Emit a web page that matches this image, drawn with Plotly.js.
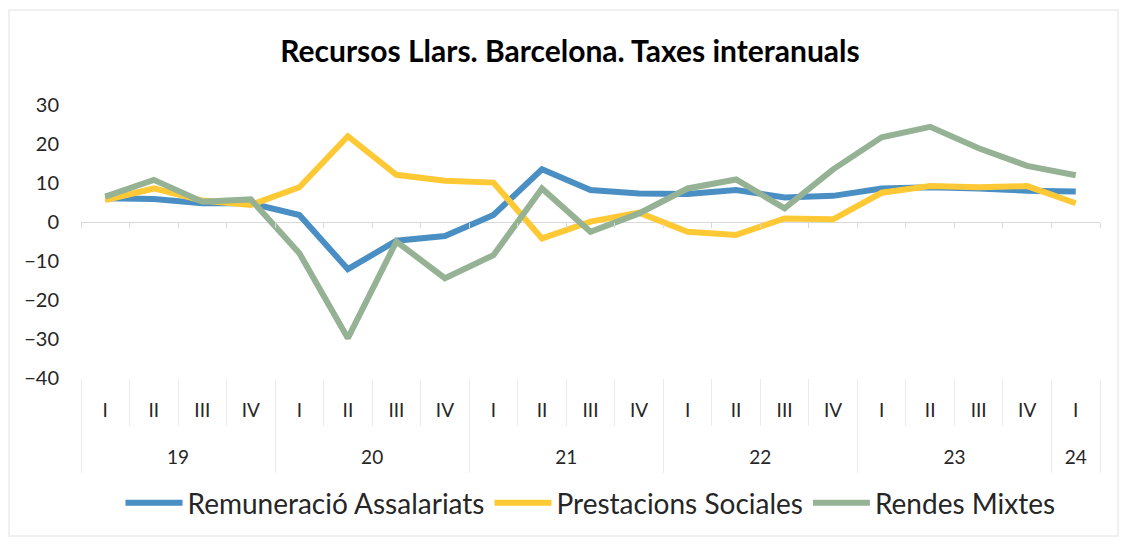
<!DOCTYPE html>
<html>
<head>
<meta charset="utf-8">
<script src="https://cdn.plot.ly/plotly-3.0.1.min.js"></script>
<style>
  html, body { margin: 0; padding: 0; background: #ffffff; }
  #chart { width: 1127px; height: 544px; }
</style>
</head>
<body>
<div id="chart"></div>
<script>
// ---- data ----
const yearLabels = ['19','19','19','19','20','20','20','20','21','21','21','21','22','22','22','22','23','23','23','23','24'];
const quarterLabels = ['I','II','III','IV','I','II','III','IV','I','II','III','IV','I','II','III','IV','I','II','III','IV','I'];

const remuneracio = [6.1, 5.9, 4.8, 4.8, 1.8, -12.1, -4.8, -3.6, 1.8, 13.5, 8.2, 7.3, 7.2, 8.2, 6.3, 6.7, 8.6, 8.9, 8.6, 8.0, 7.8];
const prestacions = [5.6, 8.6, 5.5, 4.4, 8.9, 22.0, 12.1, 10.6, 10.1, -4.2, 0.1, 2.4, -2.5, -3.3, 0.9, 0.7, 7.5, 9.2, 8.9, 9.2, 4.8];
const rendes      = [6.5, 10.8, 5.2, 5.8, -8.0, -29.8, -5.0, -14.4, -8.5, 8.6, -2.5, 2.2, 8.6, 10.9, 3.5, 13.5, 21.7, 24.4, 18.9, 14.4, 12.0];

const seriesNames = ['Remuneració Assalariats', 'Prestacions Sociales', 'Rendes Mixtes'];
const seriesColors = ['#4a8fc4', '#ffc936', '#95b394'];

// ---- layout constants ----
const W = 1127, H = 544;
const M = {l: 81, r: 27, t: 105, b: 166};
const yMin = -40, yMax = 30;
const FONT = 'Lato, "Open Sans", sans-serif';
const TXT = '#262626';
const LIGHT = '#ebebeb';

// category positions (index of each quarter)
const nCat = quarterLabels.length;
const xIdx = quarterLabels.map((_, i) => i);

// quarter boundaries
const qBounds = [];
for (let k = 0; k <= nCat; k++) qBounds.push(k - 0.5);

// year groups: centres and boundaries derived from yearLabels
const yearNames = [], yearCentres = [], yearBounds = [-0.5];
let start = 0;
for (let i = 1; i <= nCat; i++) {
  if (i === nCat || yearLabels[i] !== yearLabels[i - 1]) {
    yearNames.push(yearLabels[start]);
    yearCentres.push((start + i - 1) / 2);
    yearBounds.push(i - 0.5);
    start = i;
  }
}

const traces = [remuneracio, prestacions, rendes].map((vals, i) => ({
  type: 'scatter',
  mode: 'lines',
  x: xIdx,
  y: vals,
  name: seriesNames[i],
  line: {color: seriesColors[i], width: 6},
  hoverinfo: 'skip'
}));
// carriers for the extra axes
traces.push({type: 'scatter', mode: 'lines', x: [0], y: [null], xaxis: 'x2', showlegend: false, hoverinfo: 'skip'});
traces.push({type: 'scatter', mode: 'lines', x: [0], y: [null], xaxis: 'x3', showlegend: false, hoverinfo: 'skip'});

const pw = W - M.l - M.r, ph = H - M.t - M.b;
const px = v => (v - M.l) / pw;
const py = v => (H - M.b - v) / ph;
const xRange = [-0.5, nCat - 0.5];

const layout = {
  width: W, height: H,
  margin: M,
  paper_bgcolor: '#ffffff',
  plot_bgcolor: 'rgba(0,0,0,0)',
  font: {family: FONT, color: TXT},
  showlegend: true,
  title: {
    text: 'Recursos Llars. Barcelona. Taxes interanuals',
    font: {family: FONT, size: 30, color: '#000000', weight: 'bold'},
    xref: 'container', x: 570 / W, xanchor: 'center',
    yref: 'container', y: 1 - 51 / H, yanchor: 'middle'
  },
  // quarter level
  xaxis: {
    type: 'linear',
    range: xRange,
    showgrid: false, zeroline: false, showline: false,
    tickmode: 'array', tickvals: xIdx, ticktext: quarterLabels,
    ticks: '',
    minor: {tickmode: 'array', tickvals: qBounds, ticks: 'outside', ticklen: 47, tickcolor: LIGHT, tickwidth: 1, showgrid: false},
    tickfont: {family: FONT, size: 19, color: TXT},
    ticklabelstandoff: 19,
    fixedrange: true
  },
  // ticks on the zero line
  xaxis2: {
    overlaying: 'x',
    anchor: 'free',
    position: (0 - yMin) / (yMax - yMin),
    range: xRange,
    showgrid: false, zeroline: false, showline: false,
    showticklabels: false,
    ticks: 'outside', ticklen: 5, tickcolor: '#d9d9d9', tickwidth: 1,
    tickmode: 'array', tickvals: qBounds,
    fixedrange: true
  },
  // year level
  xaxis3: {
    overlaying: 'x',
    anchor: 'y',
    side: 'bottom',
    range: xRange,
    showgrid: false, zeroline: false, showline: false,
    tickmode: 'array', tickvals: yearCentres, ticktext: yearNames,
    ticks: '',
    minor: {tickmode: 'array', tickvals: yearBounds, ticks: 'outside', ticklen: 94, tickcolor: LIGHT, tickwidth: 1, showgrid: false},
    tickfont: {family: FONT, size: 19, color: TXT},
    ticklabelstandoff: 66,
    fixedrange: true
  },
  yaxis: {
    range: [yMin, yMax],
    dtick: 10,
    tick0: 0,
    showgrid: false,
    zeroline: true,
    zerolinecolor: '#d9d9d9',
    zerolinewidth: 1,
    showline: false,
    ticks: '',
    ticklabelstandoff: 21,
    tickfont: {family: FONT, size: 20, color: TXT},
    fixedrange: true
  },
  legend: {
    orientation: 'h',
    xref: 'paper', x: 0.5, xanchor: 'center',
    yref: 'container', y: 1 - 503 / H, yanchor: 'middle',
    font: {family: FONT, size: 28, color: TXT},
    itemwidth: 57,
    traceorder: 'normal',
    bgcolor: 'rgba(0,0,0,0)'
  },
  shapes: [
    {type: 'rect', xref: 'paper', yref: 'paper',
     x0: px(9), x1: px(1118), y0: py(536), y1: py(10),
     line: {color: '#f0f0f0', width: 2}, fillcolor: 'rgba(0,0,0,0)', layer: 'below'}
  ]
};

Plotly.newPlot('chart', traces, layout, {displayModeBar: false, staticPlot: true});
</script>
</body>
</html>
